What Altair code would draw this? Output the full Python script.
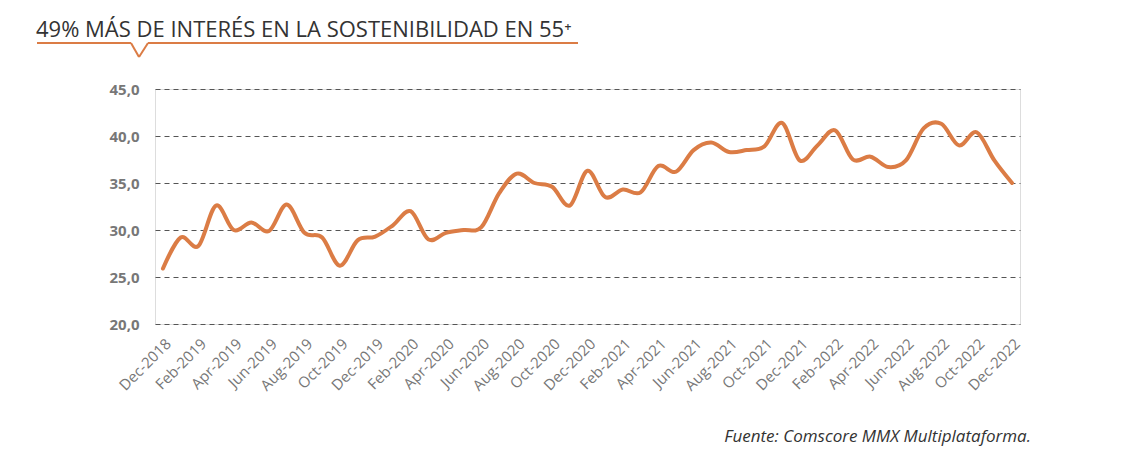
import altair as alt
import pandas as pd

months = [d.strftime("%b-%Y") for d in pd.date_range("2018-12-01", "2022-12-01", freq="MS")]
values = [25.9, 29.2, 28.3, 32.6, 30.0, 30.8, 29.9, 32.7, 29.7, 29.2,
          26.2, 28.9, 29.3, 30.5, 32.0, 29.0, 29.7, 30.0, 30.3, 33.9,
          36.0, 35.0, 34.6, 32.6, 36.3, 33.5, 34.3, 34.0, 36.8, 36.2,
          38.5, 39.3, 38.3, 38.5, 38.9, 41.4, 37.4, 39.0, 40.6, 37.5,
          37.8, 36.7, 37.4, 40.8, 41.3, 39.0, 40.4, 37.4, 35.0]
tick_labels = months[::2]
y_ticks = [20, 25, 30, 35, 40, 45]

title_text = "49% MÁS DE INTERÉS EN LA SOSTENIBILIDAD EN 55⁺"
source_text = "Fuente: Comscore MMX Multiplataforma."

ORANGE = "#DB7C45"
FONT = "Open Sans"

df = pd.DataFrame({"month": months, "value": values})

line = alt.Chart(df).mark_line(
    color=ORANGE, strokeWidth=4, interpolate="cardinal", strokeCap="round"
).encode(
    x=alt.X("month:O", sort=months,
            scale=alt.Scale(type="point", padding=0.45),
            axis=alt.Axis(values=tick_labels, title=None, labelAngle=-45,
                          domain=False, ticks=False, grid=False,
                          labelFont=FONT, labelFontSize=15, labelColor="#777777",
                          labelPadding=12)),
    y=alt.Y("value:Q", scale=alt.Scale(domain=[20, 45], nice=False, zero=False),
            axis=alt.Axis(values=y_ticks, title=None, domain=False, ticks=False,
                          labelExpr="replace(format(datum.value, '.1f'), '.', ',')",
                          labelFont=FONT, labelFontSize=15, labelFontWeight="bold",
                          labelColor="#777777", labelPadding=16,
                          grid=True, gridDash=[5, 4], gridColor="#555555",
                          gridWidth=1)),
)

one = alt.Data(values=[{}])

title = alt.Chart(one).mark_text(
    text=title_text, font=FONT, fontSize=22, color="#333333",
    align="left", baseline="alphabetic"
).encode(x=alt.value(-119), y=alt.value(-52))

seg1 = alt.Chart(one).mark_rule(color=ORANGE, strokeWidth=2).encode(
    x=alt.value(-118), x2=alt.value(-24), y=alt.value(-46), y2=alt.value(-46))
seg2 = alt.Chart(one).mark_rule(color=ORANGE, strokeWidth=2).encode(
    x=alt.value(-24), x2=alt.value(-16), y=alt.value(-46), y2=alt.value(-32))
seg3 = alt.Chart(one).mark_rule(color=ORANGE, strokeWidth=2).encode(
    x=alt.value(-16), x2=alt.value(-7), y=alt.value(-32), y2=alt.value(-46))
seg4 = alt.Chart(one).mark_rule(color=ORANGE, strokeWidth=2).encode(
    x=alt.value(-7), x2=alt.value(423), y=alt.value(-46), y2=alt.value(-46))

source = alt.Chart(one).mark_text(
    text=source_text, font=FONT, fontSize=17, fontStyle="italic", color="#333333",
    align="right", baseline="alphabetic"
).encode(x=alt.value(876), y=alt.value(353))

chart = alt.layer(line, title, seg1, seg2, seg3, seg4, source).properties(
    width=865, height=235,
    autosize=alt.AutoSizeParams(type="none"),
    padding={"left": 147, "top": 81, "right": 80, "bottom": 130},
).configure_view(stroke=None).configure(background="white")

chart.save("out.html", embed_options={"renderer": "svg", "actions": False})
